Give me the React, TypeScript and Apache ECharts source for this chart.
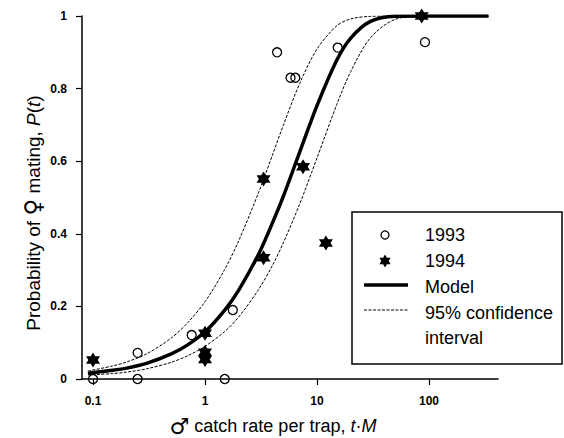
import React, { useEffect, useRef } from "react";
import * as echarts from "echarts";

// ---- data ----
const x1993 = [0.1, 0.25, 0.25, 0.76, 1.5, 1.77, 4.4, 5.8, 6.4, 15.3, 92];
const y1993 = [0, 0.072, 0, 0.121, 0, 0.19, 0.9, 0.83, 0.83, 0.913, 0.928];

const x1994 = [0.1, 1, 1, 1, 3.33, 3.33, 7.5, 12, 86];
const y1994 = [0.052, 0.126, 0.074, 0.054, 0.551, 0.334, 0.585, 0.375, 1.0];

const curveX = [0.09, 0.15, 0.2, 0.3, 0.5, 0.7, 1, 1.5, 2, 3, 4, 5, 7, 10, 15, 20, 30, 50, 100, 340];
const modelY = [0.016, 0.024, 0.03, 0.043, 0.069, 0.094, 0.13, 0.19, 0.245, 0.343, 0.43, 0.503, 0.625, 0.753, 0.878, 0.939, 0.985, 0.999, 1, 1];
const upperY = [0.022, 0.036, 0.047, 0.069, 0.113, 0.155, 0.213, 0.302, 0.381, 0.513, 0.617, 0.699, 0.814, 0.909, 0.973, 0.992, 0.999, 1, 1, 1];
const lowerY = [0.011, 0.015, 0.019, 0.028, 0.046, 0.064, 0.09, 0.131, 0.171, 0.246, 0.313, 0.375, 0.482, 0.609, 0.756, 0.847, 0.94, 0.991, 1, 1];

const yTicks = [0, 0.2, 0.4, 0.6, 0.8, 1];

const legendLabels = ["1993", "1994", "Model", "95% confidence", "interval"];

const STAR_PATH =
  "path://M0,-10L2.887,-5L8.66,-5L5.774,0L8.66,5L2.887,5L0,10L-2.887,5L-8.66,5L-5.774,0L-8.66,-5L-2.887,-5Z";

function starPoints(cx: number, cy: number, R: number) {
  const pts: number[][] = [];
  for (let i = 0; i < 12; i++) {
    const a = ((-90 + i * 30) * Math.PI) / 180;
    const r = i % 2 === 0 ? R : R / Math.sqrt(3);
    pts.push([cx + r * Math.cos(a), cy + r * Math.sin(a)]);
  }
  return pts;
}

const zip = (xs: number[], ys: number[]) => xs.map((x, i) => [x, ys[i]]);

const FONT = "'Liberation Sans', Arial, Helvetica, sans-serif";
const SYM_FONT = "'DejaVu Sans', sans-serif";

export default function App() {
  const ref = useRef<HTMLDivElement>(null);

  useEffect(() => {
    if (!ref.current) return;
    const chart = echarts.init(ref.current, undefined, { renderer: "svg" });

    const axisLineStyle = { color: "#000", width: 1.5 };
    const tickLabel = { color: "#000", fontFamily: FONT, fontWeight: "bold" as const, fontSize: 12 };

    const legendX = 425;
    const legendRows = [235, 261, 286.5, 312.5, 338];

    const option: any = {
      animation: false,
      backgroundColor: "#fff",
      grid: { left: 82, top: 16, width: 416, height: 363, containLabel: false },
      xAxis: {
        type: "log",
        logBase: 10,
        min: 0.0797,
        max: 413,
        axisLine: { show: true, lineStyle: axisLineStyle },
        axisTick: { show: true, inside: false, length: 6, lineStyle: { color: "#000", width: 1.2 } },
        axisLabel: {
          ...tickLabel,
          margin: 16,
          showMinLabel: false,
          showMaxLabel: false,
          formatter: (v: number) => String(v),
        },
        splitLine: { show: false },
        minorTick: { show: false },
      },
      yAxis: {
        type: "value",
        min: yTicks[0],
        max: yTicks[yTicks.length - 1],
        interval: 0.2,
        axisLine: { show: true, lineStyle: axisLineStyle },
        axisTick: { show: true, inside: false, length: 6, lineStyle: { color: "#000", width: 1.2 } },
        axisLabel: { ...tickLabel, margin: 15 },
        splitLine: { show: false },
      },
      series: [
        {
          name: "upper",
          type: "line",
          data: zip(curveX, upperY),
          smooth: 0.3,
          showSymbol: false,
          lineStyle: { color: "#000", width: 1, type: [3, 1.5] },
          z: 2,
        },
        {
          name: "lower",
          type: "line",
          data: zip(curveX, lowerY),
          smooth: 0.3,
          showSymbol: false,
          lineStyle: { color: "#000", width: 1, type: [3, 1.5] },
          z: 2,
        },
        {
          name: "Model",
          type: "line",
          data: zip(curveX, modelY),
          smooth: 0.3,
          showSymbol: false,
          lineStyle: { color: "#000", width: 3.5 },
          z: 3,
        },
        {
          name: "1993",
          type: "scatter",
          data: zip(x1993, y1993),
          symbol: "circle",
          symbolSize: 9,
          itemStyle: { color: "rgba(0,0,0,0)", borderColor: "#000", borderWidth: 1.3, opacity: 1 },
          z: 4,
        },
        {
          name: "1994",
          type: "scatter",
          data: zip(x1994, y1994),
          symbol: STAR_PATH,
          symbolSize: [14, 15],
          itemStyle: { color: "#000", opacity: 1 },
          z: 5,
        },
      ],
      graphic: [
        {
          type: "text",
          x: 33,
          y: 213,
          rotation: Math.PI / 2,
          style: {
            text: "{n|Probability of }{s|♀}{n| mating, }{i|P}{n|(}{i|t}{n|)}",
            align: "center",
            verticalAlign: "middle",
            textAlign: "center",
            textVerticalAlign: "middle",
            fill: "#000",
            rich: {
              n: { fontSize: 19, lineHeight: 28, fontFamily: FONT, fill: "#000", color: "#000" },
              s: { fontSize: 23, lineHeight: 28, fontWeight: "bold", fontFamily: SYM_FONT, fill: "#000", color: "#000" },
              i: { fontSize: 19, lineHeight: 28, fontStyle: "italic", fontFamily: FONT, fill: "#000", color: "#000" },
            },
          },
        },
        {
          type: "text",
          x: 273,
          y: 426,
          style: {
            text: "{s|♂}{n| catch rate per trap, }{i|t}{n|·}{i|M}",
            align: "center",
            verticalAlign: "middle",
            textAlign: "center",
            textVerticalAlign: "middle",
            fill: "#000",
            rich: {
              n: { fontSize: 18, lineHeight: 24, fontFamily: FONT, fill: "#000", color: "#000" },
              s: { fontSize: 22, lineHeight: 24, fontWeight: "bold", fontFamily: SYM_FONT, fill: "#000", color: "#000" },
              i: { fontSize: 18, lineHeight: 24, fontStyle: "italic", fontFamily: FONT, fill: "#000", color: "#000" },
            },
          },
        },
        {
          type: "rect",
          shape: { x: 352, y: 212, width: 210, height: 152 },
          style: { fill: "#fff", stroke: "#000", lineWidth: 1.5 },
          z: 10,
        },
        {
          type: "circle",
          shape: { cx: 385, cy: legendRows[0], r: 4 },
          style: { fill: "none", stroke: "#000", lineWidth: 1.3 },
          z: 11,
        },
        {
          type: "polygon",
          shape: { points: starPoints(385, legendRows[1], 6.5) },
          style: { fill: "#000" },
          z: 11,
        },
        {
          type: "line",
          shape: { x1: 364, y1: legendRows[2] - 1.5, x2: 408, y2: legendRows[2] - 1.5 },
          style: { stroke: "#000", lineWidth: 3.5 },
          z: 11,
        },
        {
          type: "line",
          shape: { x1: 364, y1: legendRows[3] - 2.5, x2: 408, y2: legendRows[3] - 2.5 },
          style: { stroke: "#000", lineWidth: 1, lineDash: [3, 1.5] },
          z: 11,
        },
        ...legendLabels.map((t, i) => ({
          type: "text",
          x: legendX,
          y: legendRows[i],
          style: {
            text: t,
            fontSize: 18,
            fontFamily: FONT,
            fill: "#000",
            align: "left",
            verticalAlign: "middle",
            textAlign: "left",
            textVerticalAlign: "middle",
          },
          z: 11,
        })),
      ],
    };

    chart.setOption(option);
    return () => chart.dispose();
  }, []);

  return (
    <div
      ref={ref}
      style={{ position: "fixed", left: 0, top: 0, width: 564, height: 438, background: "#fff" }}
    />
  );
}
